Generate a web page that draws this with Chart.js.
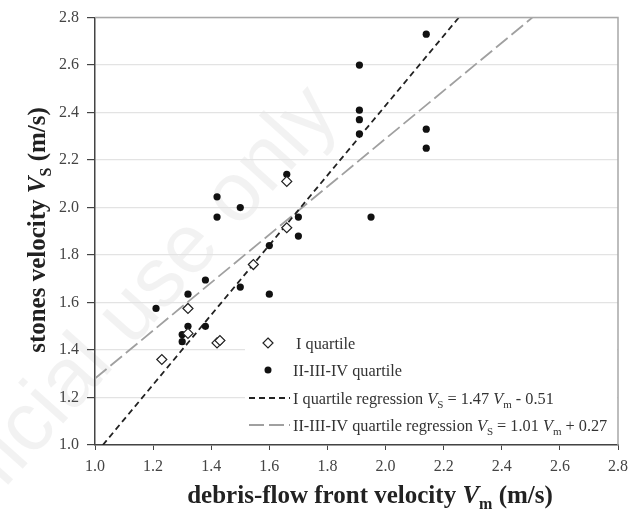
<!DOCTYPE html>
<html>
<head>
<meta charset="utf-8">
<script src="https://cdn.jsdelivr.net/npm/chart.js@4"></script>
<style>
  html, body { margin: 0; padding: 0; background: #fff; }
  #wrap { width: 639px; height: 512px; }
</style>
</head>
<body>
<div id="wrap"><canvas id="chart"></canvas></div>
<script>
// Stones velocity vs debris-flow front velocity

// I quartile (open diamonds)
const firstQuartileVm = [1.23, 1.32, 1.32, 1.42, 1.43, 1.545, 1.66, 1.66];
const firstQuartileVs = [1.36, 1.575, 1.47, 1.43, 1.44, 1.76, 1.915, 2.11];

// II-III-IV quartile (filled dots)
const otherQuartileVm = [1.21, 1.30, 1.30, 1.32, 1.32, 1.38, 1.38, 1.42, 1.42, 1.50, 1.50, 1.60,
                         1.60, 1.66, 1.70, 1.70, 1.91, 1.91, 1.91, 1.91, 1.95, 2.14, 2.14, 2.14];
const otherQuartileVs = [1.575, 1.465, 1.435, 1.50, 1.635, 1.695, 1.50, 2.045, 1.96, 2.00, 1.665, 1.84,
                         1.635, 2.14, 1.96, 1.88, 2.60, 2.41, 2.37, 2.31, 1.96, 2.73, 2.33, 2.25];

// regression line end points
const firstRegVm = [1.027, 2.252];
const firstRegVs = [1.0, 2.8];
const otherRegVm = [1.0, 2.505];
const otherRegVs = [1.28, 2.8];

const axisMin = 1.0;
const axisMax = 2.8;
const axisStep = 0.2;

const SERIF = '"Liberation Serif", "DejaVu Serif", serif';

function toPoints(xs, ys) {
    return xs.map((x, i) => ({ x: x, y: ys[i] }));
}

// draws a run of text pieces with their own fonts / baseline shifts
function drawRich(ctx, parts, x, y, align) {
    let total = 0;
    parts.forEach(p => { ctx.font = p[1]; total += ctx.measureText(p[0]).width; });
    let cx = align === 'center' ? x - total / 2 : x;
    parts.forEach(p => {
        ctx.font = p[1];
        ctx.fillText(p[0], cx, y + (p[2] || 0));
        cx += ctx.measureText(p[0]).width;
    });
}

const decorPlugin = {
    id: 'decor',
    beforeDraw(chart) {
        const ctx = chart.ctx;
        // faint watermark
        ctx.save();
        ctx.translate(-55, 555);
        ctx.rotate(-48 * Math.PI / 180);
        ctx.font = '84px "Liberation Sans", Arial, sans-serif';
        ctx.fillStyle = 'rgba(0,0,0,0.05)';
        ctx.textBaseline = 'alphabetic';
        ctx.fillText('Official use only', 0, 0);
        ctx.restore();
    },
    afterDraw(chart) {
        const ctx = chart.ctx;
        const a = chart.chartArea;
        ctx.save();
        // top and right frame
        ctx.strokeStyle = '#a8a8a8';
        ctx.lineWidth = 1.5;
        ctx.beginPath();
        ctx.moveTo(a.left, a.top);
        ctx.lineTo(a.right, a.top);
        ctx.lineTo(a.right, a.bottom);
        ctx.stroke();

        // legend box
        const lx = 245, ly = 331;
        ctx.fillStyle = '#fff';
        ctx.fillRect(lx, ly, a.right - lx - 1, a.bottom - ly - 1);

        ctx.fillStyle = '#333';
        ctx.textBaseline = 'alphabetic';
        ctx.textAlign = 'left';
        const f = '16.3px ' + SERIF;
        const fi = 'italic 16.3px ' + SERIF;
        const fs = '11px ' + SERIF;

        // diamond
        ctx.save();
        ctx.strokeStyle = '#222';
        ctx.lineWidth = 1.2;
        ctx.beginPath();
        ctx.moveTo(268, 338); ctx.lineTo(273, 343); ctx.lineTo(268, 348); ctx.lineTo(263, 343);
        ctx.closePath();
        ctx.stroke();
        // dot
        ctx.fillStyle = '#111';
        ctx.beginPath();
        ctx.arc(268, 370, 3.5, 0, Math.PI * 2);
        ctx.fill();
        // dashed lines
        ctx.lineWidth = 1.8;
        ctx.strokeStyle = '#222';
        ctx.setLineDash([6, 4]);
        ctx.beginPath(); ctx.moveTo(249, 398); ctx.lineTo(290, 398); ctx.stroke();
        ctx.strokeStyle = '#a0a0a0';
        ctx.setLineDash([15, 5]);
        ctx.beginPath(); ctx.moveTo(249, 425); ctx.lineTo(290, 425); ctx.stroke();
        ctx.restore();

        drawRich(ctx, [['I quartile', f]], 296, 349);
        drawRich(ctx, [['II-III-IV quartile', f]], 293, 376);
        drawRich(ctx, [['I quartile regression ', f], ['V', fi], ['S', fs, 4], [' = 1.47 ', f],
                       ['V', fi], ['m', fs, 4], [' - 0.51', f]], 293, 404);
        drawRich(ctx, [['II-III-IV quartile regression ', f], ['V', fi], ['S', fs, 4], [' = 1.01 ', f],
                       ['V', fi], ['m', fs, 4], [' + 0.27', f]], 293, 431);

        // axis titles
        const fb = 'bold 25px ' + SERIF;
        const fbi = 'bold italic 25px ' + SERIF;
        const fbs = 'bold 16px ' + SERIF;
        ctx.fillStyle = '#222';
        drawRich(ctx, [['debris-flow front velocity ', fb], ['V', fbi], ['m', fbs, 6], [' (m/s)', fb]],
                 370, 503, 'center');
        ctx.save();
        ctx.translate(45, 230);
        ctx.rotate(-Math.PI / 2);
        drawRich(ctx, [['stones velocity ', fb], ['V', fbi], ['S', fbs, 6], [' (m/s)', fb]],
                 0, 0, 'center');
        ctx.restore();
        ctx.restore();
    }
};

const tickFont = { family: SERIF, size: 16 };

const ctx = document.getElementById('chart').getContext('2d');
const chart = new Chart(ctx, {
    type: 'scatter',
    data: {
        datasets: [
            {
                label: 'I quartile',
                data: toPoints(firstQuartileVm, firstQuartileVs),
                pointStyle: 'rectRot',
                pointRadius: 5,
                backgroundColor: '#fff',
                borderColor: '#222',
                borderWidth: 1.2
            },
            {
                label: 'II-III-IV quartile',
                data: toPoints(otherQuartileVm, otherQuartileVs),
                pointStyle: 'circle',
                pointRadius: 3.6,
                backgroundColor: '#111',
                borderColor: '#111',
                borderWidth: 0
            },
            {
                label: 'I quartile regression',
                data: toPoints(firstRegVm, firstRegVs),
                showLine: true,
                pointRadius: 0,
                borderColor: '#222',
                borderWidth: 1.8,
                borderDash: [6, 4]
            },
            {
                label: 'II-III-IV quartile regression',
                data: toPoints(otherRegVm, otherRegVs),
                showLine: true,
                pointRadius: 0,
                borderColor: '#a0a0a0',
                borderWidth: 1.8,
                borderDash: [15, 5]
            }
        ]
    },
    options: {
        responsive: true,
        maintainAspectRatio: false,
        animation: false,
        layout: { padding: { left: 0, right: 21, top: 15, bottom: 0 } },
        plugins: {
            legend: { display: false },
            tooltip: { enabled: false }
        },
        scales: {
            x: {
                type: 'linear',
                min: axisMin,
                max: axisMax,
                afterFit: s => { s.height = 67; },
                ticks: {
                    stepSize: axisStep,
                    font: tickFont,
                    color: '#444',
                    padding: 7,
                    maxRotation: 0,
                    callback: v => v.toFixed(1)
                },
                grid: { drawOnChartArea: false, drawTicks: true, tickLength: 5, tickColor: '#444' },
                border: { color: '#444', width: 1.5 }
            },
            y: {
                type: 'linear',
                min: axisMin,
                max: axisMax,
                afterFit: s => { s.width = 95; },
                ticks: {
                    stepSize: axisStep,
                    font: tickFont,
                    color: '#444',
                    padding: 8,
                    callback: v => v.toFixed(1)
                },
                grid: { color: '#e3e3e3', lineWidth: 1.2, drawTicks: true, tickLength: 8, tickColor: '#444' },
                border: { color: '#444', width: 1.5 }
            }
        }
    },
    plugins: [decorPlugin]
});
</script>
</body>
</html>
